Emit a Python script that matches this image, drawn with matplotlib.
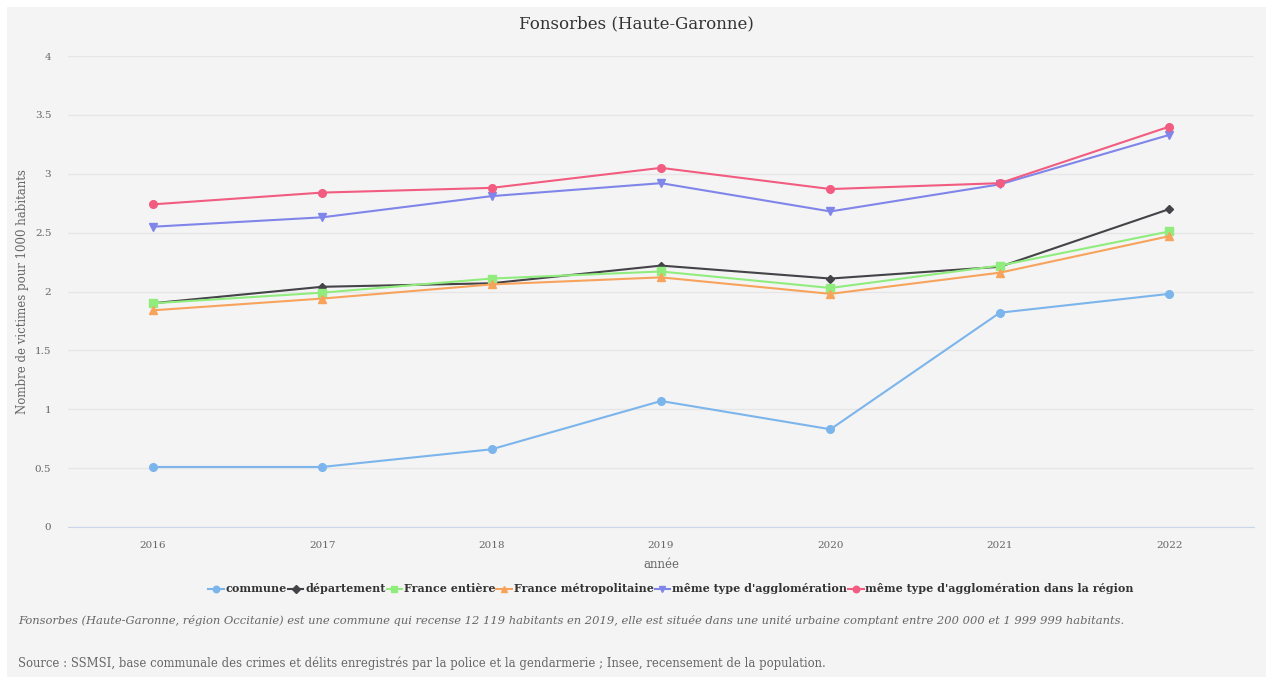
import matplotlib.pyplot as plt
from matplotlib.patches import Rectangle

years = [2016, 2017, 2018, 2019, 2020, 2021, 2022]

commune = [0.51, 0.51, 0.66, 1.07, 0.83, 1.82, 1.98]
departement = [1.90, 2.04, 2.07, 2.22, 2.11, 2.21, 2.70]
france_entiere = [1.90, 1.99, 2.11, 2.17, 2.03, 2.22, 2.51]
france_metro = [1.84, 1.94, 2.06, 2.12, 1.98, 2.16, 2.47]
meme_type = [2.55, 2.63, 2.81, 2.92, 2.68, 2.91, 3.33]
meme_type_region = [2.74, 2.84, 2.88, 3.05, 2.87, 2.92, 3.40]

series = [
    ("commune", commune, "#7cb5ec", "o"),
    ("département", departement, "#434348", "D"),
    ("France entière", france_entiere, "#90ed7d", "s"),
    ("France métropolitaine", france_metro, "#f7a35c", "^"),
    ("même type d'agglomération", meme_type, "#8085e9", "v"),
    ("même type d'agglomération dans la région", meme_type_region, "#f15c80", "o"),
]

plt.rcParams['font.family'] = ['DejaVu Serif']

fig = plt.figure(figsize=(12.66, 6.77), dpi=100)
fig.patch.set_facecolor("white")
bg = "#f4f4f4"
fig.patches.append(Rectangle((7 / 1266, 0), 1, 1 - 7 / 677, transform=fig.transFigure,
                             facecolor=bg, edgecolor="none", zorder=-10))

ax = fig.add_axes([68 / 1266, 1 - 527 / 677, (1254 - 68) / 1266, (527 - 56) / 677])
ax.set_facecolor(bg)

for name, vals, color, marker in series:
    ms = 4.5 if marker == "D" else 5.5
    ax.plot(years, vals, color=color, marker=marker, markersize=ms, linewidth=1.5,
            label=name)

ax.set_xlim(2015.5, 2022.5)
ax.set_ylim(0, 4)
ax.set_xticks(years)
ax.set_yticks([0, 0.5, 1, 1.5, 2, 2.5, 3, 3.5, 4])
ax.set_yticklabels(["0", "0.5", "1", "1.5", "2", "2.5", "3", "3.5", "4"])
ax.grid(axis="y", color="#e6e6e6", linewidth=1)
ax.set_axisbelow(True)
for side in ["top", "right", "left"]:
    ax.spines[side].set_visible(False)
ax.spines["bottom"].set_color("#ccd6eb")
ax.tick_params(axis="both", length=0, labelsize=7.5, colors="#666666")
ax.tick_params(axis="x", pad=10)
ax.tick_params(axis="y", pad=12)

ax.set_xlabel("année", fontsize=8.5, color="#666666", labelpad=6)
ax.set_ylabel("Nombre de victimes pour 1000 habitants", fontsize=8.5, color="#666666",
              labelpad=4)

fig.text(636 / 1266, 1 - 24 / 677, "Fonsorbes (Haute-Garonne)", ha="center", va="center",
         fontsize=12, color="#333333")

leg = fig.legend(loc="center", bbox_to_anchor=(671 / 1266, 1 - 589 / 677), ncol=6,
                 frameon=False, fontsize=8, handlelength=1.4, columnspacing=0.1,
                 handletextpad=0.15, markerscale=0.85)
for t in leg.get_texts():
    t.set_fontweight("bold")
    t.set_color("#333333")

fig.text(18 / 1266, 1 - 621 / 677,
         "Fonsorbes (Haute-Garonne, région Occitanie) est une commune qui recense 12 119 habitants "
         "en 2019, elle est située dans une unité urbaine comptant entre 200 000 et 1 999 999 habitants.",
         ha="left", va="center", fontsize=8.25, style="italic", color="#666666")
fig.text(18 / 1266, 1 - 663 / 677,
         "Source : SSMSI, base communale des crimes et délits enregistrés par la police et la "
         "gendarmerie ; Insee, recensement de la population.",
         ha="left", va="center", fontsize=8.4, color="#666666")

fig.savefig("out.png", dpi=100, facecolor=fig.get_facecolor())
